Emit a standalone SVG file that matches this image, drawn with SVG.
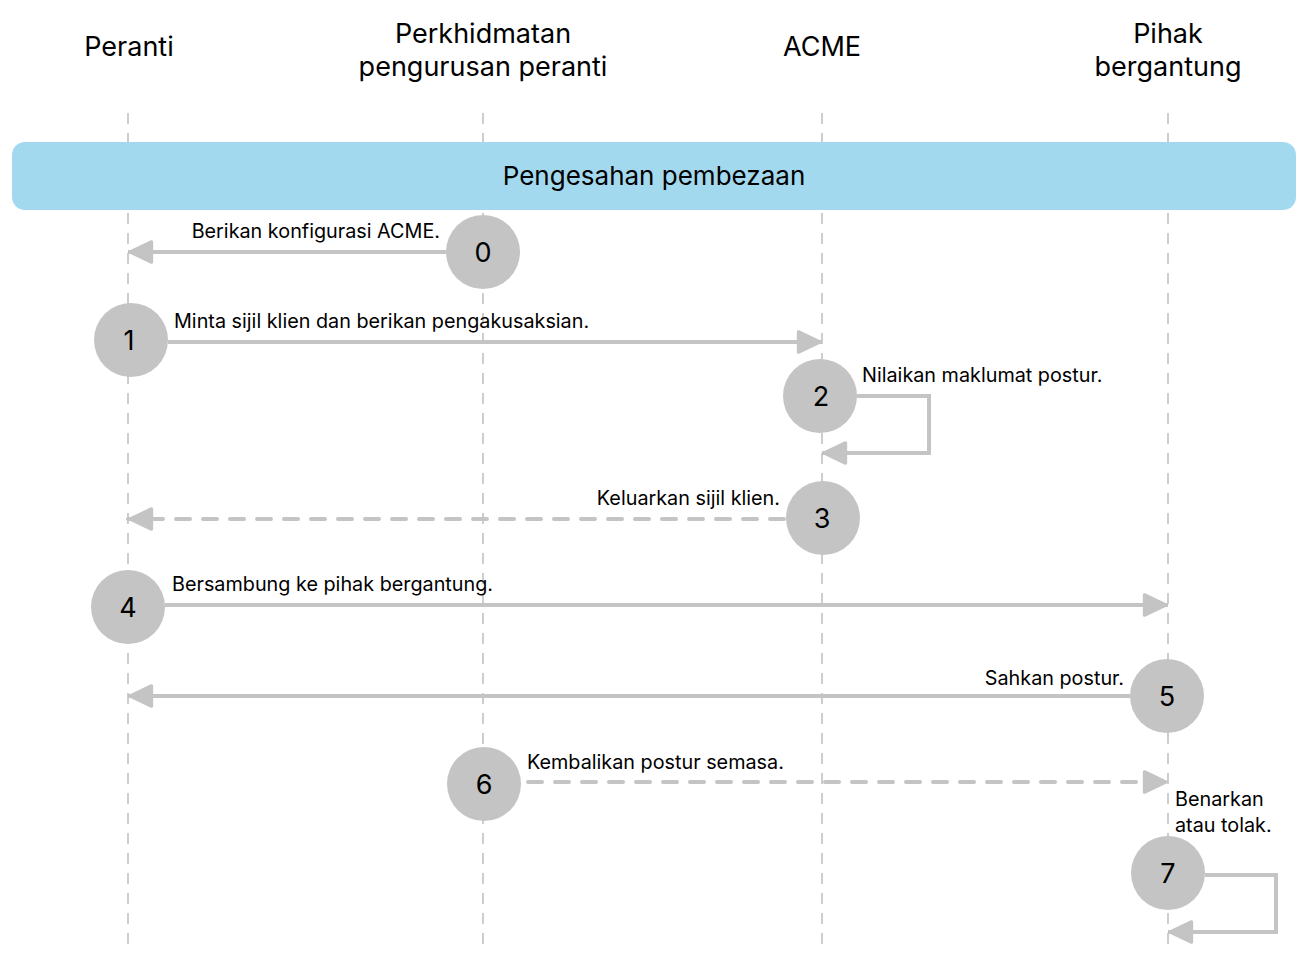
<svg xmlns="http://www.w3.org/2000/svg" width="1303" height="963" viewBox="0 0 1303 963">
<defs>
<style>
.hdr{font-family:Inter,"Liberation Sans",Arial,sans-serif;font-size:27px;fill:#000;text-anchor:middle}
.ban{font-family:Inter,"Liberation Sans",Arial,sans-serif;font-size:26px;fill:#000;text-anchor:middle}
.lbl{font-family:Inter,"Liberation Sans",Arial,sans-serif;font-size:19.8px;fill:#000}
.num{font-family:Inter,"Liberation Sans",Arial,sans-serif;font-size:27px;fill:#000;text-anchor:middle}
.life{stroke:#b3b3b3;stroke-width:1.3;stroke-dasharray:11 9;fill:none}
.arr{stroke:#c4c4c4;stroke-width:4;fill:none;marker-end:url(#ah)}
.dash{stroke-dasharray:14 13;stroke-linecap:round}
.node{fill:#c4c4c4}
</style>
<marker id="ah" markerUnits="userSpaceOnUse" markerWidth="30" markerHeight="30" viewBox="-26 -12 28 24" refX="0" refY="0" orient="auto">
<path d="M-2 0 L-22 -9.5 L-22 9.5 Z" fill="#c4c4c4" stroke="#c4c4c4" stroke-width="3" stroke-linejoin="round"/>
</marker>
</defs>
<rect width="1303" height="963" fill="#fff"/>
<g id="lifelines">
<line class="life" x1="128" y1="113" x2="128" y2="950"/>
<line class="life" x1="483" y1="113" x2="483" y2="950"/>
<line class="life" x1="822" y1="113" x2="822" y2="950"/>
<line class="life" x1="1168" y1="113" x2="1168" y2="950"/>
</g>
<g id="headers">
<text class="hdr" x="129" y="56">Peranti</text>
<text class="hdr" x="483" y="43">Perkhidmatan</text>
<text class="hdr" x="483" y="76">pengurusan peranti</text>
<text class="hdr" x="822" y="56">ACME</text>
<text class="hdr" x="1168" y="43">Pihak</text>
<text class="hdr" x="1168" y="76">bergantung</text>
</g>
<g id="banner">
<rect x="12" y="142" width="1284" height="68" rx="13" fill="#a3d9ef"/>
<text class="ban" x="654" y="185">Pengesahan pembezaan</text>
</g>
<g id="connectors">
<line class="arr" x1="446" y1="252" x2="128" y2="252"/>
<line class="arr" x1="168" y1="342" x2="822" y2="342"/>
<polyline class="arr" points="857,396 929,396 929,453 822,453"/>
<line class="arr dash" x1="784" y1="519" x2="128" y2="519"/>
<line class="arr" x1="165" y1="605" x2="1168" y2="605"/>
<line class="arr" x1="1130" y1="696" x2="128" y2="696"/>
<line class="arr dash" x1="528" y1="782" x2="1168" y2="782"/>
<polyline class="arr" points="1205,875 1276,875 1276,932 1168,932"/>
</g>
<g id="labels">
<text class="lbl" x="440" y="238" text-anchor="end">Berikan konfigurasi ACME.</text>
<text class="lbl" x="174" y="328">Minta sijil klien dan berikan pengakusaksian.</text>
<text class="lbl" x="862" y="382">Nilaikan maklumat postur.</text>
<text class="lbl" x="780" y="505" text-anchor="end">Keluarkan sijil klien.</text>
<text class="lbl" x="172" y="591">Bersambung ke pihak bergantung.</text>
<text class="lbl" x="1124" y="685" text-anchor="end">Sahkan postur.</text>
<text class="lbl" x="527" y="769">Kembalikan postur semasa.</text>
<text class="lbl" x="1175" y="806">Benarkan</text>
<text class="lbl" x="1175" y="832">atau tolak.</text>
</g>
<g id="n0"><circle class="node" cx="483" cy="252" r="37"/><text class="num" x="483" y="262">0</text></g>
<g id="n1"><circle class="node" cx="131" cy="340" r="37"/><text class="num" x="129" y="350">1</text></g>
<g id="n2"><circle class="node" cx="820" cy="396" r="37"/><text class="num" x="821" y="406">2</text></g>
<g id="n3"><circle class="node" cx="823" cy="518" r="37"/><text class="num" x="822" y="528">3</text></g>
<g id="n4"><circle class="node" cx="128" cy="607" r="37"/><text class="num" x="128" y="617">4</text></g>
<g id="n5"><circle class="node" cx="1167" cy="696" r="37"/><text class="num" x="1167" y="706">5</text></g>
<g id="n6"><circle class="node" cx="484" cy="784" r="37"/><text class="num" x="484" y="794">6</text></g>
<g id="n7"><circle class="node" cx="1168" cy="873" r="37"/><text class="num" x="1168" y="883">7</text></g>
</svg>
